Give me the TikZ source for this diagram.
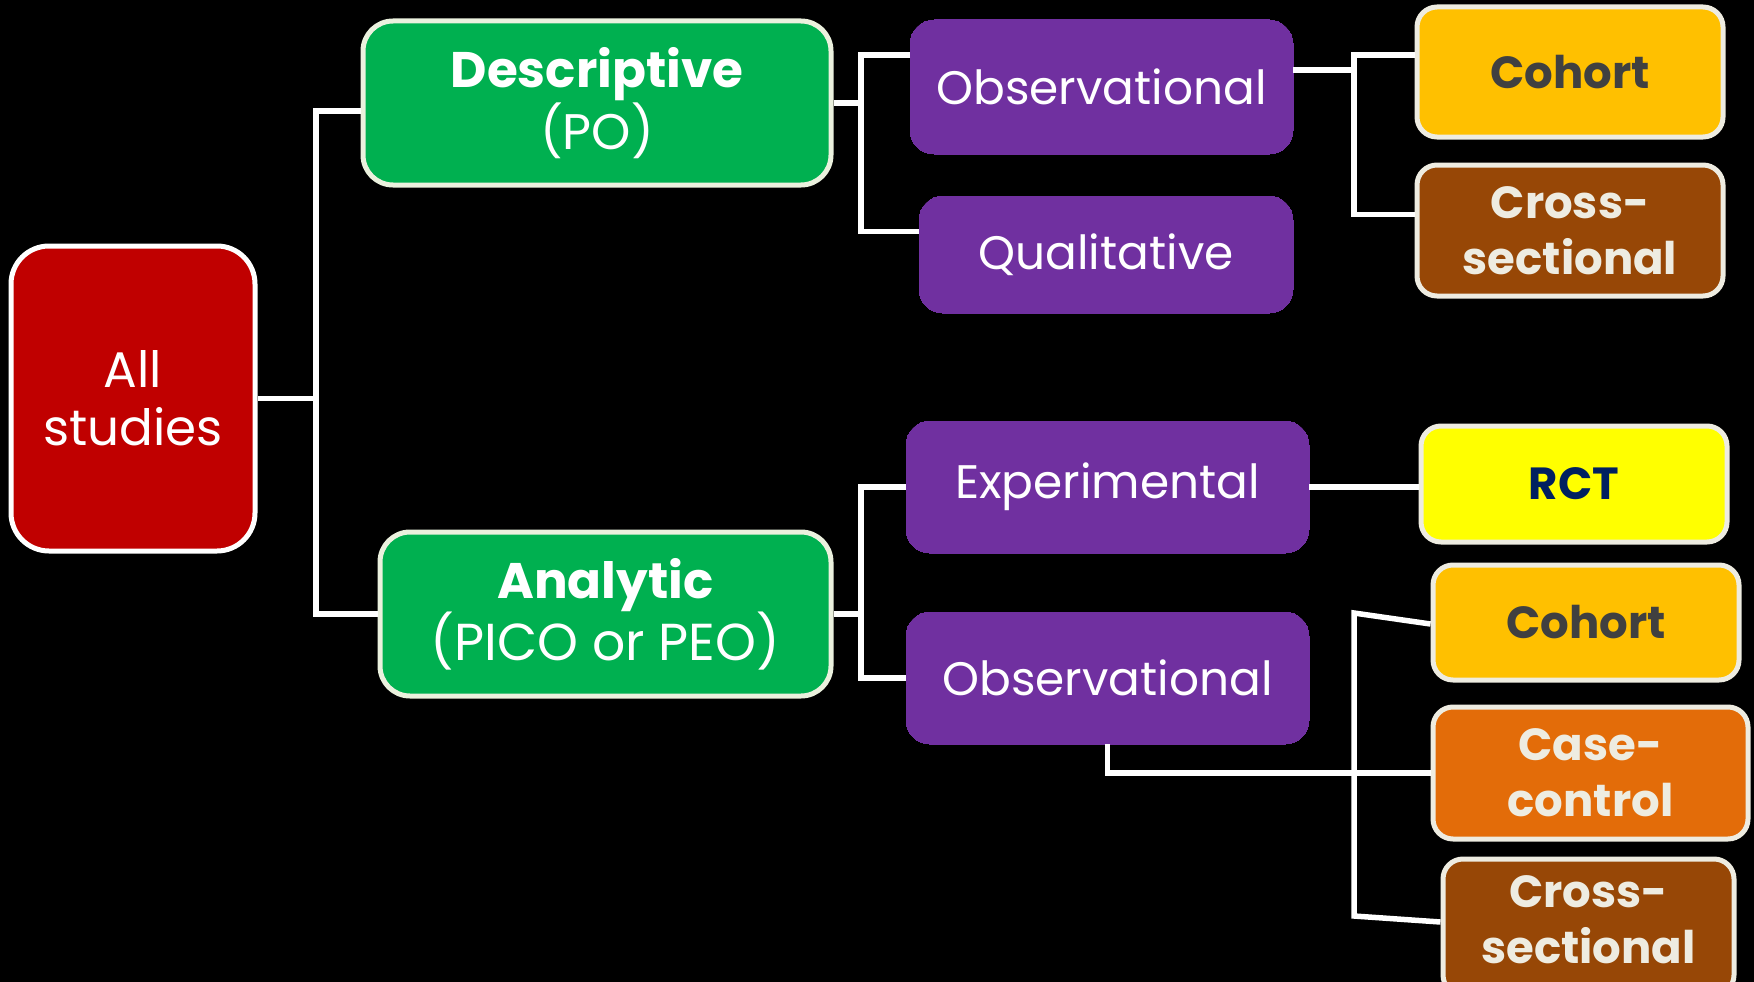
\documentclass[tikz,border=0pt]{standalone}
\usepackage{fontspec}
\setmainfont{Poppins}
\definecolor{cRed}{HTML}{C00000}
\definecolor{cGreen}{HTML}{00B050}
\definecolor{cPurple}{HTML}{7030A0}
\definecolor{cGold}{HTML}{FFC000}
\definecolor{cBrown}{HTML}{974706}
\definecolor{cOrange}{HTML}{E36C09}
\definecolor{cYellow}{HTML}{FFFF00}
\definecolor{cCream}{HTML}{EEECE1}
\definecolor{cGreenBorder}{HTML}{EBF1DE}
\definecolor{cDark}{HTML}{404040}
\definecolor{cNavy}{HTML}{002060}
\tikzset{
  box/.style={rectangle, rounded corners=#1, inner sep=0pt, align=center, line width=5pt},
  redbox/.style={box=38pt, fill=cRed, draw=white, text=white, font=\fontsize{50}{58}\selectfont},
  greenbox/.style={box=30pt, fill=cGreen, draw=cGreenBorder, text=white, font=\fontsize{50}{62}\selectfont},
  purplebox/.style={box=24pt, fill=cPurple, draw=cPurple, line width=0pt, text=white, font=\fontsize{47}{56}\selectfont},
  leafbox/.style={box=20pt, draw=cCream, font=\bfseries\fontsize{45}{56}\selectfont},
  leaftext/.style={inner sep=0pt, align=center, font=\bfseries\fontsize{45}{56}\selectfont},
  conn/.style={draw=white, line width=5.5pt, line join=miter},
}
\begin{document}
\begin{tikzpicture}[x=1pt, y=-1pt]
\useasboundingbox (0,0) rectangle (1754,982);
\fill[black] (0,0) rectangle (1754,982);

\node[redbox, minimum width=244pt, minimum height=305pt] (all) at (133,398.5) {All\\studies};
\node[greenbox, minimum width=468pt, minimum height=164pt] (desc) at (597,103) {\textbf{Descriptive}\\(PO)};
\node[greenbox, minimum width=451pt, minimum height=164pt] (ana) at (605.5,614) {\textbf{Analytic}\\{\fontsize{52}{62}\selectfont(PICO or PEO)}};
\node[purplebox, minimum width=383pt, minimum height=134pt] (obs1) at (1101.5,87) {Observational};
\node[purplebox, minimum width=374pt, minimum height=117pt] (qual) at (1106,254.5) {Qualitative};
\node[purplebox, minimum width=403pt, minimum height=132pt] (exp) at (1107.5,487) {Experimental};
\node[purplebox, minimum width=403pt, minimum height=132pt] (obs2) at (1107.5,678) {Observational};
\node[leafbox, fill=cGold, text=cDark, minimum width=306pt, minimum height=130pt] (coh1) at (1570,72) {Cohort};
\node[leafbox, fill=cBrown, text=cCream, minimum width=306pt, minimum height=131pt] (cs1) at (1570,230.5) {Cross-\\sectional};
\node[leafbox, fill=cYellow, text=cNavy, minimum width=306pt, minimum height=116pt] (rct) at (1574,484) {RCT};
\node[leafbox, fill=cGold, text=cDark, minimum width=306pt, minimum height=115pt] (coh2) at (1586,622.5) {Cohort};
\node[leafbox, fill=cOrange, text=cCream, minimum width=315pt, minimum height=132pt] (cc) at (1590.5,773) {Case-\\control};
\node[leafbox, fill=cBrown, minimum width=291pt, minimum height=136pt] (cs2) at (1588.5,927) {};
\node[leaftext, text=cCream] (cs2t) at (1588.5,920) {Cross-\\sectional};

\coordinate (b1) at (316,398.5);
\coordinate (b2) at (861,103);
\coordinate (b3) at (1354,70);
\coordinate (b4) at (861,614);
\coordinate (b5t) at (1354,613);
\coordinate (b5b) at (1354,916);

\draw[conn] (all.east) -- (b1);
\draw[conn] ([yshift=-8pt]desc.west) -| (b1) |- (ana.west);
\draw[conn] (desc.east) -- (b2);
\draw[conn] ([yshift=32pt]obs1.west) -| (b2) |- ([yshift=23pt]qual.west);
\draw[conn] ([yshift=17pt]obs1.east) -- (b3);
\draw[conn] ([yshift=17pt]coh1.west) -| (b3) |- ([yshift=16pt]cs1.west);
\draw[conn] (ana.east) -- (b4);
\draw[conn] (exp.west) -| (b4) |- (obs2.west);
\draw[conn] (exp.east) -- (exp.east -| rct.west);
\draw[conn] (obs2.south) |- (cc.west);
\draw[conn] ([yshift=-1.5pt]coh2.west) -- (b5t) -- (b5b) -- ([yshift=5pt]cs2.west);
\end{tikzpicture}
\end{document}
